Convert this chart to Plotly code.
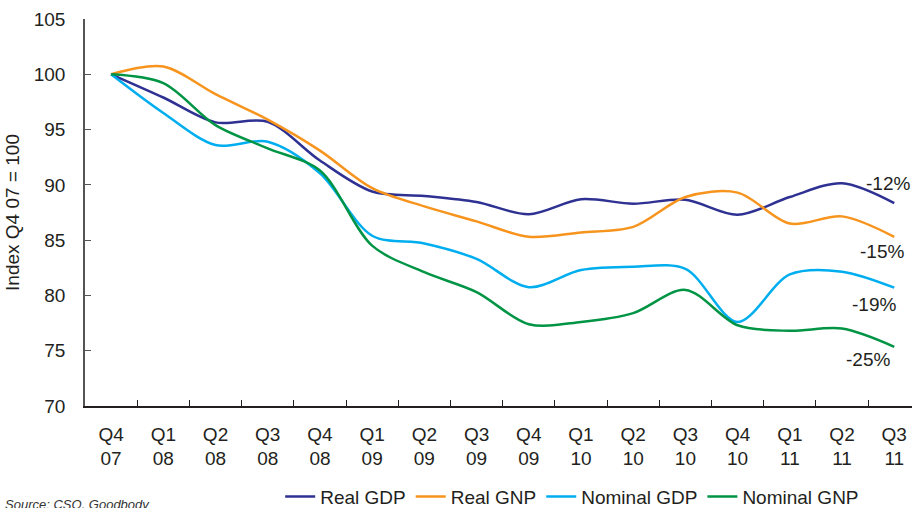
import plotly.graph_objects as go

# Quarterly index, Q4 2007 = 100
quarters = ["Q4<br>07", "Q1<br>08", "Q2<br>08", "Q3<br>08", "Q4<br>08",
            "Q1<br>09", "Q2<br>09", "Q3<br>09", "Q4<br>09",
            "Q1<br>10", "Q2<br>10", "Q3<br>10", "Q4<br>10",
            "Q1<br>11", "Q2<br>11", "Q3<br>11"]

real_gdp = [100, 97.9, 95.65, 95.7, 92.2, 89.4, 89.0, 88.45, 87.35,
            88.7, 88.3, 88.65, 87.3, 88.9, 90.15, 88.35]
real_gnp = [100, 100.7, 98.2, 95.9, 93.1, 89.7, 88.05, 86.7, 85.3,
            85.7, 86.2, 88.9, 89.3, 86.5, 87.15, 85.3]
nominal_gdp = [100, 96.5, 93.6, 93.9, 91.05, 85.4, 84.7, 83.3, 80.75,
               82.3, 82.6, 82.4, 77.6, 81.9, 82.15, 80.7]
nominal_gnp = [100, 99.2, 95.4, 93.3, 91.3, 84.5, 82.1, 80.3, 77.4,
               77.6, 78.4, 80.5, 77.3, 76.8, 77.0, 75.35]

series = [
    ("Real GDP", real_gdp, "#2E3192", 20, -6),
    ("Real GNP", real_gnp, "#F7941D", -15, -12),
    ("Nominal GDP", nominal_gdp, "#00AEEF", -17, -20),
    ("Nominal GNP", nominal_gnp, "#009444", -13, -26),
]

font_family = "Liberation Sans, Arial, sans-serif"
text_color = "#231F20"

fig = go.Figure()
for name, vals, color, _, _ in series:
    fig.add_trace(go.Scatter(
        x=quarters, y=vals, name=name, mode="lines",
        line=dict(color=color, width=2.5, shape="spline", smoothing=0.9),
    ))

# End-of-period change labels, computed from the final index value
for name, vals, color, dy, dx in series:
    change = round(vals[-1] - 100)
    fig.add_annotation(
        x=quarters[-1], y=vals[-1], text=f"{change}%",
        showarrow=False, xshift=dx, yshift=dy,
        font=dict(size=19, color=text_color, family=font_family),
    )

fig.add_annotation(
    xref="paper", yref="paper", x=-0.099, y=-0.231,
    xanchor="left", yanchor="top", showarrow=False,
    text="<i>Source: CSO, Goodbody</i>",
    font=dict(size=13, color="#333333", family=font_family),
)

fig.update_layout(
    width=912, height=508,
    margin=dict(l=85, r=0, t=19, b=102, autoexpand=False),
    paper_bgcolor="white", plot_bgcolor="white",
    font=dict(family=font_family, size=19, color=text_color),
    showlegend=True,
    legend=dict(orientation="h", x=0.236, y=-0.185, xanchor="left", yanchor="top",
                font=dict(size=19, color=text_color), bgcolor="rgba(0,0,0,0)",
                itemwidth=30),
)

fig.update_xaxes(
    type="category", range=[-0.5, 15.34], automargin=False,
    showline=True, linecolor="#231F20", linewidth=1.5,
    ticks="inside", ticklen=6, tickwidth=1.2, tickcolor="#231F20",
    tickson="boundaries", showgrid=False, zeroline=False,
    ticklabelstandoff=10,
    tickfont=dict(size=19, color=text_color),
)

fig.update_yaxes(
    range=[70, 105], dtick=5, tick0=70, automargin=False,
    showline=True, linecolor="#555555", linewidth=1.5,
    ticks="inside", ticklen=6, tickwidth=1.2, tickcolor="#555555",
    showgrid=False, zeroline=False,
    ticklabelstandoff=14,
    tickfont=dict(size=19, color=text_color),
    title=dict(text="Index Q4 07 = 100", standoff=9,
               font=dict(size=19, color=text_color)),
)

fig.write_html("out.html")
